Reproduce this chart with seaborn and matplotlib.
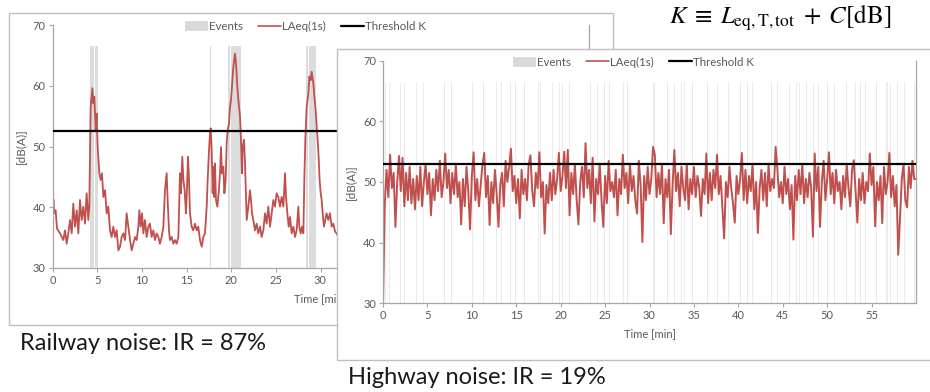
import matplotlib
matplotlib.use("Agg")
import numpy as np
import matplotlib.pyplot as plt
import seaborn as sns
from matplotlib.patches import Rectangle, Patch
from matplotlib.lines import Line2D

# ---------------- data ----------------
# Railway noise, LAeq(1s) [dB(A)] vs time [min] (visible part of the chart)
rail_time = [0.00, 0.10, 0.20, 0.35, 0.50, 0.84, 1.21, 1.40, 1.59, 1.77,
             1.96, 2.15, 2.33, 2.52, 2.71, 2.89, 3.08, 3.26, 3.45, 3.64,
             3.82, 4.01, 4.12, 4.27, 4.46, 4.57, 4.68, 4.83, 4.94, 5.06,
             5.24, 5.39, 5.54, 5.69, 5.88, 6.06, 6.25, 6.44, 6.62, 6.81,
             7.00, 7.18, 7.37, 7.56, 7.74, 7.93, 8.12, 8.30, 8.49, 8.68,
             8.86, 9.05, 9.24, 9.42, 9.61, 9.72, 9.87, 10.02, 10.17, 10.35,
             10.54, 10.73, 10.91, 11.10, 11.29, 11.47, 11.66, 11.85, 12.03, 12.22,
             12.41, 12.59, 12.78, 12.89, 13.04, 13.15, 13.34, 13.53, 13.71, 13.90,
             14.09, 14.27, 14.38, 14.53, 14.65, 14.79, 14.94, 15.02, 15.17, 15.28,
             15.39, 15.58, 15.76, 15.95, 16.14, 16.32, 16.51, 16.70, 16.88, 17.07,
             17.26, 17.37, 17.52, 17.63, 17.71, 17.82, 17.93, 18.00, 18.12, 18.19,
             18.30, 18.45, 18.60, 18.75, 18.86, 18.97, 19.12, 19.24, 19.38, 19.50,
             19.61, 19.76, 19.87, 19.98, 20.13, 20.24, 20.43, 20.54, 20.69, 20.84,
             20.99, 21.10, 21.21, 21.29, 21.44, 21.55, 21.66, 21.74, 21.92, 22.11,
             22.22, 22.33, 22.48, 22.67, 22.85, 23.04, 23.23, 23.41, 23.60, 23.79,
             23.97, 24.16, 24.35, 24.53, 24.72, 24.91, 25.09, 25.28, 25.47, 25.65,
             25.84, 26.03, 26.14, 26.29, 26.44, 26.59, 26.77, 26.96, 27.15, 27.33,
             27.52, 27.63, 27.78, 27.93, 28.08, 28.19, 28.30, 28.45, 28.64, 28.75,
             28.90, 29.01, 29.20, 29.31, 29.46, 29.57, 29.68, 29.79, 29.90, 30.02,
             30.13, 30.24, 30.39, 30.53, 30.68, 30.87, 31.06, 31.25, 31.44, 31.63,
             31.81, 32.00, 32.50, 33.00]
rail_laeq = [38.0, 41.3, 39.0, 39.5, 36.5, 35.7, 34.6, 36.2, 34.0, 35.7,
             37.9, 35.7, 40.6, 36.8, 39.5, 35.7, 41.2, 37.9, 40.1, 37.3,
             42.3, 37.9, 40.1, 56.5, 59.6, 57.1, 58.2, 52.7, 55.4, 49.9,
             45.6, 44.5, 45.6, 41.7, 42.8, 39.0, 40.1, 36.2, 35.1, 36.8,
             35.1, 36.2, 32.9, 33.5, 35.1, 35.7, 34.6, 39.0, 36.8, 34.6,
             32.9, 34.0, 35.1, 34.6, 36.8, 39.5, 36.8, 39.0, 35.7, 37.9,
             35.1, 36.8, 37.3, 35.1, 36.2, 34.6, 35.7, 35.1, 34.0, 35.1,
             36.8, 42.8, 45.6, 41.2, 36.2, 34.6, 35.1, 34.0, 34.6, 34.0,
             35.1, 45.6, 42.3, 48.3, 44.5, 42.8, 39.0, 41.7, 48.3, 44.5,
             39.0, 36.8, 36.2, 37.3, 36.2, 36.8, 34.6, 33.5, 35.1, 35.7,
             40.1, 44.5, 49.4, 52.2, 53.0, 49.4, 42.3, 46.7, 41.7, 47.2,
             41.2, 40.1, 42.3, 45.6, 49.9, 45.6, 46.7, 42.3, 44.5, 50.5,
             52.7, 53.8, 56.5, 57.6, 60.9, 63.1, 65.3, 63.7, 59.8, 57.1,
             54.9, 51.1, 45.6, 49.9, 51.1, 47.2, 41.7, 37.9, 40.1, 42.8,
             41.2, 39.0, 37.9, 36.2, 37.3, 35.7, 36.8, 35.1, 36.2, 39.0,
             37.3, 40.1, 36.8, 39.0, 41.2, 40.1, 42.3, 41.7, 40.1, 41.7,
             40.1, 45.6, 41.7, 39.0, 36.8, 38.4, 35.7, 36.8, 35.1, 36.2,
             40.1, 36.8, 35.7, 36.8, 35.7, 44.5, 51.1, 56.5, 58.7, 61.5,
             60.9, 62.3, 60.4, 58.2, 56.0, 53.3, 51.1, 48.3, 44.5, 42.3,
             41.2, 39.0, 36.8, 37.9, 39.0, 37.9, 39.0, 36.8, 37.3, 36.0,
             35.7, 35.1, 36.0, 35.0]
rail_event_start = [4.20, 4.45, 4.75, 17.60, 19.60, 19.95, 20.35, 20.70, 28.35, 28.70, 29.05]
rail_event_end = [4.40, 4.70, 5.05, 17.75, 19.90, 20.30, 20.65, 21.05, 28.65, 29.00, 29.55]
rail_threshold = 52.5

# Highway noise, LAeq [dB(A)] sampled every 0.2 min from 0 to 60 min
hw_step_min = 0.2
hw_laeq = [30.0, 46.5, 52.0, 47.5, 54.5,
           49.0, 51.5, 42.6, 50.0, 54.3,
           48.5, 54.0, 46.0, 51.5, 47.0,
           52.5, 46.5, 50.5, 45.5, 51.0,
           47.0, 52.5, 46.0, 50.0, 53.0,
           48.0, 51.5, 44.5, 50.5, 47.0,
           52.0, 48.5, 53.5, 47.5, 50.0,
           54.7, 49.0, 52.0, 46.5, 51.5,
           48.0, 53.0, 47.5, 50.0, 43.0,
           50.5, 46.0, 52.5, 48.5, 42.2,
           51.0, 54.9, 47.0, 50.5, 46.0,
           49.5, 53.0, 54.8, 47.5, 51.0,
           42.9, 50.0, 46.5, 52.0, 48.0,
           42.6, 49.5, 51.5, 46.0, 53.5,
           50.0, 52.5, 55.5, 48.5, 51.0,
           46.5, 50.5, 44.0, 52.0, 48.0,
           50.5, 47.0, 53.0, 54.4, 48.5,
           46.0, 51.5, 49.0, 54.9, 47.5,
           50.0, 41.5, 49.5, 46.5, 51.5,
           47.0, 52.0, 48.0, 50.5, 54.8,
           48.5, 51.0, 55.0, 49.0, 55.3,
           44.5, 51.5, 48.0, 53.0, 47.0,
           43.0, 50.0, 52.5, 47.5, 56.4,
           49.0, 52.0, 46.5, 54.0, 43.5,
           50.5, 48.0, 53.0, 47.0, 42.6,
           51.0, 46.5, 53.5, 48.5, 50.0,
           47.5, 52.0, 44.5, 50.5, 48.0,
           54.5, 49.0, 51.5, 46.5, 53.0,
           48.5, 51.0, 47.0, 44.8, 53.5,
           49.5, 40.1, 51.0, 47.0, 52.5,
           48.0, 50.5, 55.8, 54.5, 47.5,
           51.5, 48.0, 53.0, 43.2, 50.5,
           47.5, 52.0, 41.4, 49.5, 55.3,
           48.5, 51.5, 46.0, 52.5, 49.0,
           47.0, 53.0, 45.5, 50.5, 48.0,
           52.5, 47.5, 51.0, 49.0, 44.4,
           50.5, 48.0, 54.7, 46.5, 51.5,
           47.0, 52.0, 49.0, 54.5, 48.0,
           51.0, 46.0, 40.7, 50.0, 47.5,
           52.5, 49.0, 46.5, 43.3, 51.0,
           48.0, 50.5, 54.8, 47.0, 52.0,
           46.5, 51.0, 48.5, 53.0, 45.5,
           50.0, 41.6, 49.0, 52.0, 47.0,
           51.5, 46.0, 53.0, 48.5, 50.5,
           49.0, 55.8, 52.0, 47.5, 50.0,
           46.5, 52.5, 48.0, 50.5, 45.5,
           49.5, 40.5, 51.0, 47.0, 52.0,
           48.0, 53.0, 46.5, 50.5, 47.5,
           51.5, 49.0, 41.0, 54.7, 48.5,
           52.5, 42.6, 50.0, 53.5, 47.0,
           50.5, 54.9, 48.0, 51.5, 46.5,
           52.0, 48.5, 50.0, 45.5, 51.0,
           47.5, 53.0, 49.0, 46.0, 52.0,
           53.6, 48.5, 43.3, 50.5, 47.0,
           51.5, 46.5, 50.0, 48.5, 54.7,
           49.5, 52.5, 42.7, 50.0, 47.0,
           51.0, 43.2, 52.5, 48.0, 50.0,
           54.8, 47.5, 51.0, 46.0, 49.5,
           38.0, 44.0, 50.5, 53.0, 47.0,
           45.8, 52.5, 49.0, 53.5, 50.5,
           50.5]
hw_event_start = [0.27, 0.71, 1.96, 2.35, 2.55, 3.73, 4.51, 5.69, 6.27, 6.86,
                  7.65, 8.63, 9.41, 10.00, 10.78, 11.29, 11.57, 12.75, 13.33, 13.92,
                  14.31, 14.90, 15.88, 16.27, 16.86, 17.45, 17.65, 19.02, 19.80, 20.20,
                  20.78, 20.98, 21.57, 22.94, 23.33, 24.12, 24.51, 24.90, 25.49, 26.86,
                  27.06, 27.45, 28.43, 29.22, 29.80, 30.40, 31.96, 32.75, 33.53, 33.92,
                  34.75, 35.88, 36.47, 37.65, 38.24, 38.82, 40.20, 40.98, 41.57, 42.16,
                  43.73, 44.30, 45.10, 45.69, 46.47, 46.86, 47.65, 48.43, 49.02, 49.61,
                  50.00, 50.78, 51.18, 52.16, 53.14, 53.73, 54.31, 54.90, 55.49, 56.67,
                  57.06, 57.84, 58.63, 59.41, 59.80]
hw_event_dur = [0.08, 0.08, 0.08, 0.08, 0.08, 0.08, 0.08, 0.08, 0.08, 0.08,
                0.08, 0.08, 0.08, 0.08, 0.08, 0.08, 0.08, 0.08, 0.08, 0.08,
                0.08, 0.08, 0.08, 0.08, 0.08, 0.08, 0.08, 0.08, 0.08, 0.08,
                0.08, 0.08, 0.08, 0.08, 0.08, 0.08, 0.08, 0.08, 0.08, 0.08,
                0.08, 0.08, 0.08, 0.08, 0.08, 0.20, 0.08, 0.08, 0.08, 0.08,
                0.20, 0.08, 0.08, 0.08, 0.08, 0.08, 0.08, 0.08, 0.08, 0.08,
                0.08, 0.20, 0.08, 0.08, 0.08, 0.08, 0.08, 0.08, 0.08, 0.08,
                0.08, 0.08, 0.08, 0.08, 0.08, 0.08, 0.08, 0.08, 0.08, 0.20,
                0.08, 0.08, 0.08, 0.08, 0.08]
hw_threshold = 53.0
event_top = 66.5

legend_labels = ["Events", "LAeq(1s)", "Threshold K"]
caption_rail = "Railway noise: IR = 87%"
caption_hw = "Highway noise: IR = 19%"
formula = r"$K\;\equiv\;L_{\mathrm{eq,T,tot}}\;+\;C[\mathrm{dB}]$"

# ---------------- style ----------------
sns.set_theme(style="white")
plt.rcParams["font.family"] = ["Lato", "DejaVu Sans"]
plt.rcParams["mathtext.fontset"] = "stix"

RED = "#c0504d"
EVENT = "#d9d9d9"
GRAY_TXT = "#595959"
SPINE = "#a6a6a6"

W, H = 930, 392
fig = plt.figure(figsize=(W / 100, H / 100), dpi=100)


def fx(px):
    return px / W


def fy(py):
    return 1 - py / H


def draw_panel(ax, t, db, ev_x, ev_w, thr, ev_color, line_w):
    ax.bar(ev_x, [event_top - 30] * len(ev_x), bottom=30, width=ev_w,
           align="edge", color=ev_color, linewidth=0, zorder=1)
    sns.lineplot(x=t, y=db, ax=ax, color=RED, linewidth=line_w, zorder=2,
                 legend=False)
    ax.axhline(thr, color="black", linewidth=1.6, zorder=3)
    ax.set_xlim(0, 60)
    ax.set_ylim(30, 70)
    ax.set_xticks(np.arange(0, 60, 5))
    ax.set_yticks([30, 40, 50, 60, 70])
    for s in ["left", "bottom", "right"]:
        ax.spines[s].set_visible(True)
        ax.spines[s].set_color(SPINE)
        ax.spines[s].set_linewidth(0.9)
    ax.spines["top"].set_visible(False)
    ax.tick_params(axis="both", direction="out", length=3, width=0.8,
                   color=SPINE, labelsize=8, labelcolor=GRAY_TXT, pad=2)
    ax.tick_params(axis="x", bottom=True)
    ax.tick_params(axis="y", left=True)
    ax.set_xlabel("Time [min]", fontsize=8, color=GRAY_TXT, labelpad=5)
    ax.set_ylabel("[dB(A)]", fontsize=8.5, color=GRAY_TXT, labelpad=5)
    handles = [Patch(facecolor=EVENT, edgecolor="none"),
               Line2D([], [], color=RED, linewidth=1.2),
               Line2D([], [], color="black", linewidth=1.6)]
    leg = ax.legend(handles, legend_labels, ncol=3, loc="upper right",
                    bbox_to_anchor=(0.705, 1.035), frameon=False, fontsize=8.3,
                    handlelength=2.0, handleheight=0.9, handletextpad=0.1,
                    columnspacing=1.3, labelcolor=GRAY_TXT, borderaxespad=0)
    leg.set_zorder(10)


# back panel (railway)
fig.patches.append(Rectangle((fx(9), fy(325)), fx(604), 312 / H,
                             transform=fig.transFigure, facecolor="white",
                             edgecolor="#bfbfbf", linewidth=1.0, zorder=1))
ax_back = fig.add_axes([fx(52.5), fy(268), fx(536), 243 / H])
ax_back.set_zorder(2)
draw_panel(ax_back, rail_time, rail_laeq, rail_event_start,
           [e - s for s, e in zip(rail_event_start, rail_event_end)],
           rail_threshold, "#dcdcdc", 1.3)

# front panel (highway)
fig.patches.append(Rectangle((fx(337), fy(360)), fx(620), 311 / H,
                             transform=fig.transFigure, facecolor="white",
                             edgecolor="#bfbfbf", linewidth=1.0, zorder=3))
ax_front = fig.add_axes([fx(383), fy(303.3), fx(533), 242.6 / H])
ax_front.set_zorder(4)
hw_time = np.arange(len(hw_laeq)) * hw_step_min
draw_panel(ax_front, hw_time, hw_laeq, hw_event_start, hw_event_dur,
           hw_threshold, "#ebebeb", 1.4)

# texts
fig.text(fx(20), fy(344), caption_rail, fontsize=17, color="#1a1a1a",
         ha="left", va="center", zorder=10)
fig.text(fx(348), fy(378), caption_hw, fontsize=17, color="#1a1a1a",
         ha="left", va="center", zorder=10)
fig.text(fx(780), fy(18), formula, fontsize=18, color="black",
         ha="center", va="center", zorder=10)

fig.savefig("out.png", dpi=100)
